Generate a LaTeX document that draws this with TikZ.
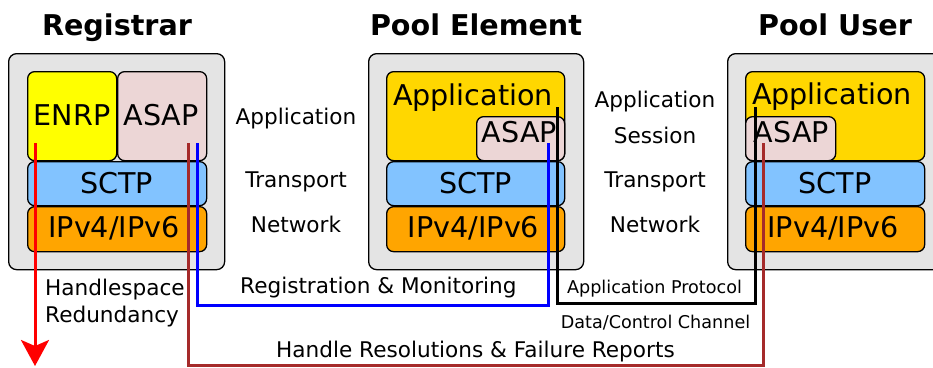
\documentclass[tikz,border=0pt]{standalone}
\usepackage{fontspec}
\setmainfont{DejaVu Sans}
\usetikzlibrary{arrows.meta}
\definecolor{outergray}{RGB}{228,228,228}
\definecolor{enrpyellow}{RGB}{255,255,0}
\definecolor{asappink}{RGB}{236,214,214}
\definecolor{sctpblue}{RGB}{130,195,255}
\definecolor{iporange}{RGB}{255,165,0}
\definecolor{appgold}{RGB}{255,215,0}
\definecolor{linebrown}{RGB}{165,42,42}
\begin{document}
\begin{tikzpicture}[x=1pt,y=-1pt,
  outerbox/.style={draw=black,line width=1.3pt,fill=outergray,rounded corners=8pt,anchor=north west,inner sep=0pt},
  layerbox/.style={draw=black,line width=1.3pt,rounded corners=7pt,anchor=north west,inner sep=0pt},
  boxtext/.style={font=\fontsize{28.6}{32}\selectfont,anchor=base,inner sep=0pt},
  title/.style={font=\fontsize{28.6}{32}\selectfont\bfseries,anchor=base,inner sep=0pt},
  midtext/.style={font=\fontsize{21.6}{25}\selectfont,anchor=base,inner sep=0pt},
  smalltext/.style={font=\fontsize{17.6}{21}\selectfont,anchor=base,inner sep=0pt},
  conn/.style={line width=3pt}
]
\useasboundingbox (0,0) rectangle (933,367);

% Titles
\node[title] (tReg) at (117,35) {Registrar};
\node[title] (tPE) at (476,35) {Pool Element};
\node[title] (tPU) at (835,35) {Pool User};

% Outer boxes
\node[outerbox,minimum width=216pt,minimum height=216pt] (regbox) at (8,53) {};
\node[outerbox,minimum width=215pt,minimum height=216pt] (pebox) at (368,53) {};
\node[outerbox,minimum width=230pt,minimum height=216pt] (pubox) at (727,53) {};

% Registrar layers
\node[layerbox,fill=enrpyellow,minimum width=89pt,minimum height=89pt] (enrp) at (27,71) {};
\node[layerbox,fill=asappink,minimum width=89pt,minimum height=89pt] (regasap) at (117,71) {};
\node[layerbox,fill=sctpblue,minimum width=179pt,minimum height=44pt] (regsctp) at (27,161) {};
\node[layerbox,fill=iporange,minimum width=179pt,minimum height=45pt] (regip) at (27,206) {};
\node[boxtext] (tEnrp) at (72,125) {ENRP};
\node[boxtext] (tRegAsap) at (161,125) {ASAP};
\node[boxtext] (tRegSctp) at (116.5,193) {SCTP};
\node[boxtext] (tRegIp) at (114,237) {IPv4/IPv6};

% Pool Element layers
\node[layerbox,fill=appgold,minimum width=178pt,minimum height=89pt] (peapp) at (386,71) {};
\node[layerbox,fill=asappink,minimum width=88pt,minimum height=44pt] (peasap) at (476,116) {};
\node[layerbox,fill=sctpblue,minimum width=178pt,minimum height=44pt] (pesctp) at (386,161) {};
\node[layerbox,fill=iporange,minimum width=178pt,minimum height=45pt] (peip) at (386,206) {};
\node[boxtext] (tPeApp) at (473,105) {Application};
\node[boxtext] (tPeAsap) at (519.5,142) {ASAP};
\node[boxtext] (tPeSctp) at (475.5,193) {SCTP};
\node[boxtext] (tPeIp) at (473.5,237) {IPv4/IPv6};

% Pool User layers
\node[layerbox,fill=appgold,minimum width=179pt,minimum height=89pt] (puapp) at (745,71) {};
\node[layerbox,fill=asappink,minimum width=90pt,minimum height=44pt] (puasap) at (745,116) {};
\node[layerbox,fill=sctpblue,minimum width=179pt,minimum height=44pt] (pusctp) at (745,161) {};
\node[layerbox,fill=iporange,minimum width=179pt,minimum height=45pt] (puip) at (745,206) {};
\node[boxtext] (tPuApp) at (832,104) {Application};
\node[boxtext] (tPuAsap) at (791.5,142) {ASAP};
\node[boxtext] (tPuSctp) at (835,193) {SCTP};
\node[boxtext] (tPuIp) at (833,237) {IPv4/IPv6};

% Middle layer labels
\node[midtext] (lApp1) at (296,124) {Application};
\node[midtext] (lTr1) at (296,187) {Transport};
\node[midtext] (lNet1) at (296,232) {Network};
\node[midtext] (lApp2) at (655,107) {Application};
\node[midtext] (lSes2) at (655,143) {Session};
\node[midtext] (lTr2) at (655,187) {Transport};
\node[midtext] (lNet2) at (655,232) {Network};

% Connector end points
\coordinate (redS) at (35,143);
\coordinate (redE) at (35,366);
\coordinate (brS) at (188,143);
\coordinate (brC1) at (188,365);
\coordinate (brC2) at (763,365);
\coordinate (brE) at (763,143);
\coordinate (blS) at (197,143);
\coordinate (blC1) at (197,305);
\coordinate (blC2) at (548,305);
\coordinate (blE) at (548,143);
\coordinate (bkS) at (557,107);
\coordinate (bkC1) at (557,303);
\coordinate (bkC2) at (755,303);
\coordinate (bkE) at (755,107);

% Connectors
\draw[conn,draw=red,-{Stealth[length=26pt,width=28pt,inset=6pt]}] (redS) -- (redE);
\draw[conn,draw=linebrown] (brS) -- (brC1) -- (brC2) -- (brE);
\draw[conn,draw=blue] (blS) -- (blC1) -- (blC2) -- (blE);
\draw[conn,draw=black] (bkS) -- (bkC1) -- (bkC2) -- (bkE);

% Bottom labels
\node[midtext,anchor=base west] (lHs) at (45,295) {Handlespace};
\node[midtext,anchor=base west] (lRed) at (45,322) {Redundancy};
\node[midtext,anchor=base west] (lRegMon) at (240,293) {Registration \& Monitoring};
\node[midtext,anchor=base west] (lHandle) at (276,357) {Handle Resolutions \& Failure Reports};
\node[smalltext] (lAppProt) at (654.5,293) {Application Protocol};
\node[smalltext] (lData) at (655.5,328) {Data/Control Channel};
\end{tikzpicture}
\end{document}
